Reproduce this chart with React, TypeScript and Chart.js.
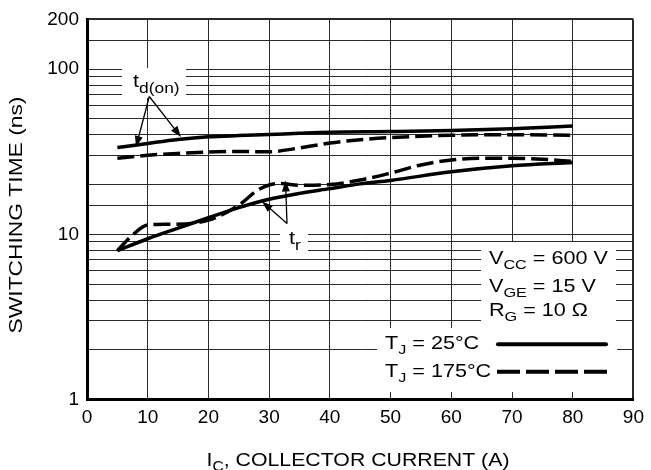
import React, { useEffect, useRef } from "react";
import { Chart, registerables } from "chart.js";

Chart.register(...registerables);

// ---- data ----
const xTdon25 = [5, 10, 15, 20, 25, 30, 35, 40, 50, 60, 70, 80];
const tdon25 = [33.5, 35.5, 37.5, 38.9, 39.6, 40.2, 40.9, 41.5, 41.9, 42.5, 43.6, 45.2];
const xTdon175 = [5, 10, 15, 20, 25, 30, 34, 40, 45, 50, 60, 70, 80];
const tdon175 = [28.9, 30.1, 30.9, 31.5, 31.7, 31.6, 32.9, 35.7, 37.4, 38.5, 39.8, 40.1, 39.8];
const xTr25 = [5, 10, 15, 20, 25, 30, 35, 40, 45, 50, 60, 70, 80];
const tr25 = [7.96, 9.4, 10.9, 12.6, 14.5, 16.3, 17.7, 18.9, 20.2, 21.2, 23.9, 26.0, 27.2];
const xTr175 = [5, 7.5, 10, 14, 20, 25, 28, 30, 32, 35, 40, 45, 50, 55, 60, 65, 70, 75, 80];
const tr175 = [7.96, 9.9, 11.4, 11.5, 12.2, 15.0, 18.4, 19.9, 20.3, 19.8, 20.0, 21.3, 23.5, 26.3, 28.2, 28.9, 28.9, 28.5, 27.6];

const yTickLabels = [1, 10, 100, 200];
const xMin = 0;
const xMax = 90;
const xStep = 10;
const yMin = 1;
const yMax = 200;

const FONT = '"Liberation Sans", Arial, Helvetica, sans-serif';

type Seg = { t: string; sub?: boolean };

function richWidth(ctx: CanvasRenderingContext2D, segs: Seg[], size: number, subSize: number) {
  let w = 0;
  for (const s of segs) {
    ctx.font = `${s.sub ? subSize : size}px ${FONT}`;
    w += ctx.measureText(s.t).width;
  }
  return w;
}

function drawRich(
  ctx: CanvasRenderingContext2D,
  segs: Seg[],
  x: number,
  y: number,
  size: number,
  subSize: number,
  subDrop: number,
  stretch: number,
  align: "left" | "center" = "left"
) {
  ctx.save();
  ctx.translate(x, y);
  ctx.scale(stretch, 1);
  ctx.textBaseline = "alphabetic";
  ctx.textAlign = "left";
  ctx.fillStyle = "#000";
  let cx = 0;
  if (align === "center") cx = -richWidth(ctx, segs, size, subSize) / 2;
  for (const s of segs) {
    ctx.font = `${s.sub ? subSize : size}px ${FONT}`;
    ctx.fillText(s.t, cx, s.sub ? subDrop : 0);
    cx += ctx.measureText(s.t).width;
  }
  ctx.restore();
}

function arrow(ctx: CanvasRenderingContext2D, x0: number, y0: number, x1: number, y1: number) {
  const ang = Math.atan2(y1 - y0, x1 - x0);
  const len = 11;
  const hw = 4;
  ctx.save();
  ctx.strokeStyle = "#000";
  ctx.fillStyle = "#000";
  ctx.lineWidth = 1.3;
  ctx.beginPath();
  ctx.moveTo(x0, y0);
  ctx.lineTo(x1 - Math.cos(ang) * len * 0.8, y1 - Math.sin(ang) * len * 0.8);
  ctx.stroke();
  ctx.beginPath();
  ctx.moveTo(x1, y1);
  ctx.lineTo(x1 - Math.cos(ang) * len - Math.sin(ang) * hw, y1 - Math.sin(ang) * len + Math.cos(ang) * hw);
  ctx.lineTo(x1 - Math.cos(ang) * len + Math.sin(ang) * hw, y1 - Math.sin(ang) * len - Math.cos(ang) * hw);
  ctx.closePath();
  ctx.fill();
  ctx.restore();
}

const boxesPlugin = {
  id: "boxes",
  beforeDatasetsDraw(chart: any) {
    const ctx: CanvasRenderingContext2D = chart.ctx;
    ctx.save();
    ctx.fillStyle = "#fff";
    ctx.fillRect(122, 68, 64, 30); // td(on) label
    ctx.fillRect(280, 228, 28, 26); // tr label
    ctx.fillRect(481, 242, 135, 88); // conditions
    ctx.fillRect(377, 328, 240, 64); // legend
    ctx.restore();
  },
  afterDatasetsDraw(chart: any) {
    const ctx: CanvasRenderingContext2D = chart.ctx;
    const S = 1.2;
    drawRich(ctx, [{ t: "t" }, { t: "d(on)", sub: true }], 133, 86.5, 18, 14.5, 6.5, S);
    drawRich(ctx, [{ t: "t" }, { t: "r", sub: true }], 289, 244, 18, 14.5, 6, S);
    arrow(ctx, 149.3, 96.5, 136, 147);
    arrow(ctx, 149.3, 96.5, 181, 137);
    arrow(ctx, 287, 223.5, 262, 201.5);
    arrow(ctx, 287, 223.5, 285.5, 180.5);

    drawRich(ctx, [{ t: "V" }, { t: "CC", sub: true }, { t: " = 600 V" }], 489, 263.5, 18, 13.5, 5, S);
    drawRich(ctx, [{ t: "V" }, { t: "GE", sub: true }, { t: " = 15 V" }], 489, 291.5, 18, 13.5, 5, S);
    drawRich(ctx, [{ t: "R" }, { t: "G", sub: true }, { t: " = 10 Ω" }], 489, 316, 18, 13.5, 5, S);
    drawRich(ctx, [{ t: "T" }, { t: "J", sub: true }, { t: " = 25°C" }], 385, 349, 18, 13.5, 5, S);
    drawRich(ctx, [{ t: "T" }, { t: "J", sub: true }, { t: " = 175°C" }], 385, 376.5, 18, 13.5, 5, S);

    ctx.save();
    ctx.strokeStyle = "#000";
    ctx.lineWidth = 4;
    ctx.lineCap = "round";
    ctx.beginPath();
    ctx.moveTo(498, 344.3);
    ctx.lineTo(606, 344.3);
    ctx.stroke();
    ctx.lineCap = "butt";
    ctx.setLineDash([23, 6]);
    ctx.beginPath();
    ctx.moveTo(497, 371.7);
    ctx.lineTo(607, 371.7);
    ctx.stroke();
    ctx.restore();

    drawRich(
      ctx,
      [{ t: "I" }, { t: "C", sub: true }, { t: ", COLLECTOR CURRENT (A)" }],
      358,
      466,
      19,
      14,
      5,
      1.12,
      "center"
    );
    ctx.save();
    ctx.translate(22, 215);
    ctx.rotate(-Math.PI / 2);
    drawRich(ctx, [{ t: "SWITCHING TIME (ns)" }], 0, 0, 19, 14, 5, 1.2, "center");
    ctx.restore();
  },
};

export default function App() {
  const ref = useRef<HTMLCanvasElement | null>(null);

  useEffect(() => {
    if (!ref.current) return;
    const mk = (xs: number[], ys: number[], dashed: boolean) => ({
      data: xs.map((x, i) => ({ x, y: ys[i] })),
      borderColor: "#000",
      borderWidth: 3.5,
      borderDash: dashed ? [17, 6] : [],
      pointRadius: 0,
      fill: false,
      cubicInterpolationMode: "monotone" as const,
    });
    const tickFont = { family: FONT, size: 19 };
    const chart = new Chart(ref.current, {
      type: "line",
      data: {
        datasets: [
          mk(xTdon25, tdon25, false),
          mk(xTdon175, tdon175, true),
          mk(xTr25, tr25, false),
          mk(xTr175, tr175, true),
        ],
      },
      options: {
        responsive: false,
        animation: false,
        events: [],
        layout: { padding: { top: 15, right: 16.5, left: 0, bottom: 0 } },
        plugins: { legend: { display: false }, tooltip: { enabled: false } },
        scales: {
          x: {
            type: "linear",
            min: xMin,
            max: xMax,
            ticks: { stepSize: xStep, font: tickFont, color: "#000", padding: 7, maxRotation: 0 },
            grid: {
              color: "#2a2a2a",
              lineWidth: (c: any) => (c.tick && c.tick.value === xMax ? 2 : 1),
              drawTicks: false,
            },
            border: { color: "#000", width: 3 },
            afterFit: (s: any) => {
              s.height = 70.5;
            },
          },
          y: {
            type: "logarithmic",
            min: yMin,
            max: yMax,
            ticks: {
              autoSkip: false,
              font: tickFont,
              color: "#000",
              padding: 8,
              callback: (v: any) => {
                const n = Number(v);
                return yTickLabels.some((t) => Math.abs(t - n) < 1e-6) ? String(Math.round(n)) : "";
              },
            },
            grid: {
              color: "#2a2a2a",
              lineWidth: (c: any) => (c.tick && Math.abs(c.tick.value - yMax) < 1e-6 ? 2 : 1),
              drawTicks: false,
            },
            border: { color: "#000", width: 3 },
            afterFit: (s: any) => {
              s.width = 87;
            },
          },
        },
      } as any,
      plugins: [boxesPlugin],
    });
    return () => chart.destroy();
  }, []);

  return (
    <div style={{ position: "fixed", left: 0, top: 0, width: 651, height: 470, background: "#fff" }}>
      <canvas ref={ref} width={651} height={470} style={{ display: "block" }} />
    </div>
  );
}
